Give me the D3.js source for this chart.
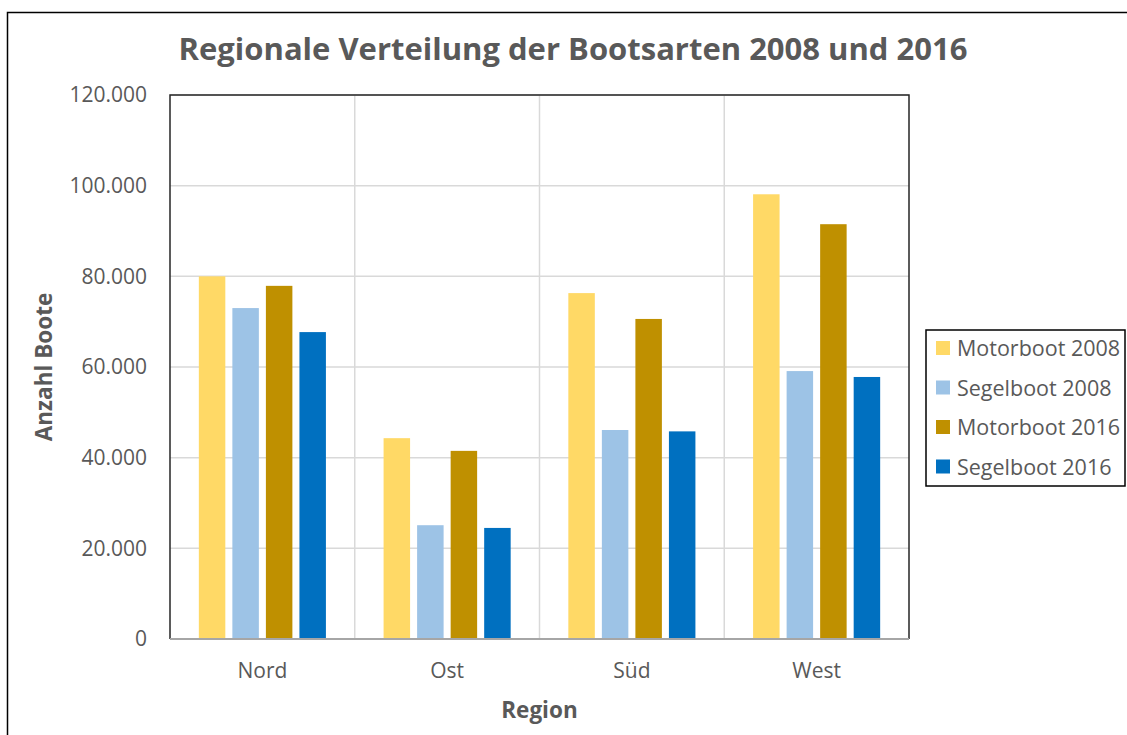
<!DOCTYPE html>
<html>
<head>
<meta charset="utf-8">
<script src="https://cdn.jsdelivr.net/npm/d3@7"></script>
<style>
  body { margin: 0; background: #fff; }
  text { font-family: "Open Sans", "Noto Sans", sans-serif; fill: #595959; }
</style>
</head>
<body>
<div id="chart"></div>
<script>
// data
const regions = ['Nord', 'Ost', 'Süd', 'West']
const series = ['Motorboot 2008', 'Segelboot 2008', 'Motorboot 2016', 'Segelboot 2016']
const motor2008 = [80000, 44300, 76300, 98100]
const segel2008 = [73000, 25100, 46100, 59100]
const motor2016 = [77900, 41500, 70600, 91500]
const segel2016 = [67700, 24500, 45800, 57800]
const yTicks = [0, 20000, 40000, 60000, 80000, 100000, 120000]
const colors = ['#FFD966', '#9DC3E6', '#BF9000', '#0070C0']

const values = [motor2008, segel2008, motor2016, segel2016]
const table = regions.map((r, i) => ({
  region: r,
  vals: series.map((s, j) => ({ key: s, value: values[j][i] }))
}))

// chart setting
const chart = { width: 1127, height: 735 }
const plot = { left: 170, top: 95, right: 909, bottom: 639 }

const fmt = d => d3.format(',')(d).replace(/,/g, '.')

const svg = d3.select('#chart').append('svg')
  .attr('width', chart.width)
  .attr('height', chart.height)

// outer frame
svg.append('rect')
  .attr('x', 7.5).attr('y', 12.5)
  .attr('width', 1130).attr('height', 740)
  .attr('fill', 'none').attr('stroke', '#000').attr('stroke-width', 1.5)

//scale
const x0 = d3.scaleBand().domain(regions).range([plot.left, plot.right])
const x1 = d3.scaleBand().domain(series).range([0, x0.bandwidth()])
  .paddingInner(0.21).paddingOuter(0.86)
const y = d3.scaleLinear().domain([0, 120000]).range([plot.bottom, plot.top])

// grid
const grid = svg.append('g')
grid.selectAll('.hgrid').data(yTicks.slice(1))
  .join('line')
  .attr('x1', plot.left).attr('x2', plot.right)
  .attr('y1', d => y(d)).attr('y2', d => y(d))
  .attr('stroke', '#d9d9d9').attr('stroke-width', 1.5)
grid.selectAll('.vgrid').data(regions.slice(1))
  .join('line')
  .attr('x1', d => x0(d)).attr('x2', d => x0(d))
  .attr('y1', plot.top).attr('y2', plot.bottom)
  .attr('stroke', '#d9d9d9').attr('stroke-width', 1.5)

// bars
svg.append('g').selectAll('g')
  .data(table)
  .join('g')
    .attr('transform', d => `translate(${x0(d.region)},0)`)
  .selectAll('rect')
  .data(d => d.vals)
  .join('rect')
    .attr('x', d => x1(d.key))
    .attr('y', d => y(d.value))
    .attr('width', x1.bandwidth())
    .attr('height', d => y(0) - y(d.value))
    .attr('fill', (d, i) => colors[i])

// plot border (top, left, right dark; bottom gray axis)
svg.append('path')
  .attr('d', `M${plot.left},${plot.bottom} V${plot.top} H${plot.right} V${plot.bottom}`)
  .attr('fill', 'none').attr('stroke', '#262626').attr('stroke-width', 1.5)
svg.append('line')
  .attr('x1', plot.left).attr('x2', plot.right)
  .attr('y1', plot.bottom).attr('y2', plot.bottom)
  .attr('stroke', '#a6a6a6').attr('stroke-width', 2)

// axes
const yAxis = d3.axisLeft(y).tickValues(yTicks).tickFormat(fmt).tickSize(0).tickPadding(23)
const leftAxis = svg.append('g')
  .attr('transform', `translate(${plot.left},0)`)
  .call(yAxis)
leftAxis.select('.domain').remove()
leftAxis.selectAll('text')
  .attr('font-size', '21px').attr('font-family', null).attr('fill', '#595959')

const xAxis = d3.axisBottom(x0).tickSize(0).tickPadding(24)
const bottomAxis = svg.append('g')
  .attr('transform', `translate(0,${plot.bottom})`)
  .call(xAxis)
bottomAxis.select('.domain').remove()
bottomAxis.selectAll('text')
  .attr('font-size', '21px').attr('font-family', null).attr('fill', '#595959')

// titles
svg.append('text')
  .text('Regionale Verteilung der Bootsarten 2008 und 2016')
  .attr('x', 573).attr('y', 60)
  .attr('text-anchor', 'middle')
  .attr('font-size', '31px').attr('font-weight', 'bold')

svg.append('text')
  .text('Region')
  .attr('x', (plot.left + plot.right) / 2).attr('y', 718)
  .attr('text-anchor', 'middle')
  .attr('font-size', '22.5px').attr('font-weight', 'bold')

svg.append('text')
  .text('Anzahl Boote')
  .attr('transform', `translate(52,${(plot.top + plot.bottom) / 2}) rotate(-90)`)
  .attr('text-anchor', 'middle')
  .attr('font-size', '22.5px').attr('font-weight', 'bold')

// legend
const legend = svg.append('g').attr('transform', 'translate(926,330)')
legend.append('rect')
  .attr('x', 0).attr('y', 0).attr('width', 199).attr('height', 156)
  .attr('fill', '#fff').attr('stroke', '#000').attr('stroke-width', 1.5)
const item = legend.selectAll('.item').data(series)
  .join('g')
  .attr('transform', (d, i) => `translate(10,${18 + i * 39.5})`)
item.append('rect')
  .attr('x', 0).attr('y', -7).attr('width', 14).attr('height', 14)
  .attr('fill', (d, i) => colors[i])
item.append('text')
  .text(d => d)
  .attr('x', 21).attr('y', 8)
  .attr('font-size', '21.5px')
</script>
</body>
</html>
